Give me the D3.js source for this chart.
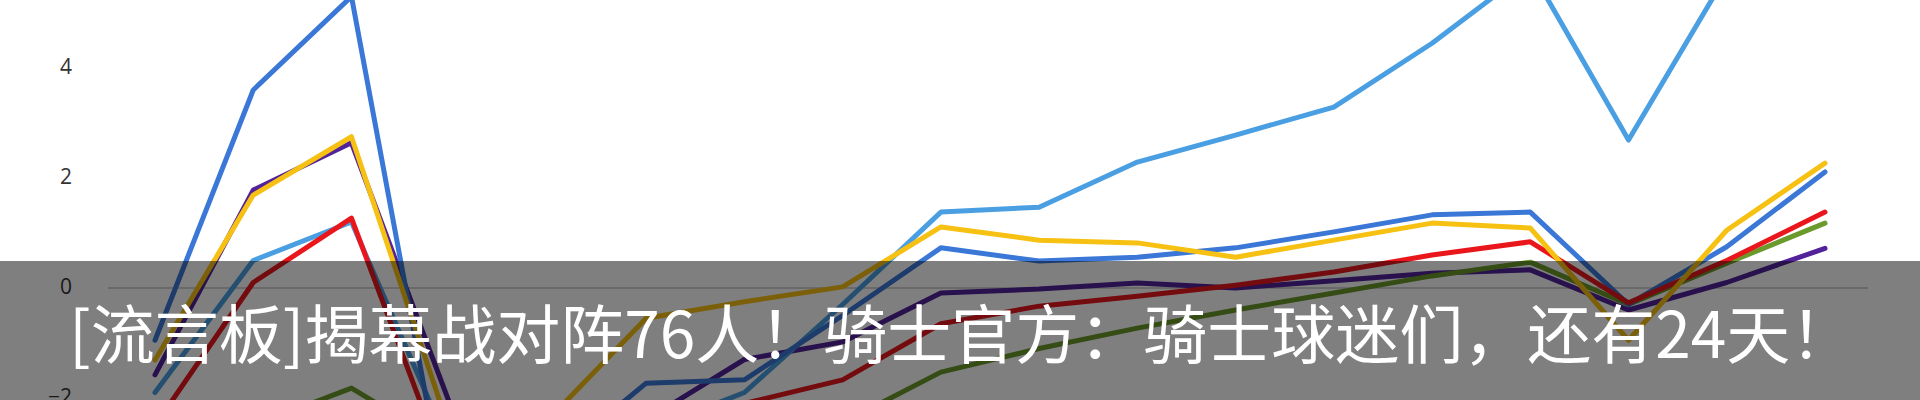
<!DOCTYPE html>
<html>
<head>
<meta charset="utf-8">
<script src="https://cdn.jsdelivr.net/npm/d3@7"></script>
<style>
  html, body { margin: 0; padding: 0; background: #fff; overflow: hidden; }
  svg { display: block; }
</style>
</head>
<body>
<svg id="chart" width="1920" height="400"></svg>
<script>
// ---- data ----
const categories = [1, 2, 3, 4, 5, 6, 7, 8, 9, 10, 11, 12, 13, 14, 15, 16, 17, 18];
const tickValues = [-2, 0, 2, 4];

const seriesPurple    = [-1.58, 1.78, 2.64, -2.1, -3.0, -2.4, -1.3, -0.98, -0.09, -0.02, 0.09, 0.0, 0.13, 0.27, 0.33, -0.4, 0.1, 0.72];
const seriesGreen     = [-3.0, -2.5, -1.82, -2.9, -3.3, -3.2, -2.9, -2.45, -1.53, -1.1, -0.73, -0.4, -0.09, 0.22, 0.47, -0.3, 0.45, 1.18];
const seriesLightBlue = [-1.9, 0.5, 1.2, -2.9, -3.2, -2.6, -1.9, -0.3, 1.38, 1.47, 2.29, 2.78, 3.29, 4.45, 5.8, 2.69, 5.7, 6.0];
const seriesBlue      = [-0.95, 3.6, 5.3, -4.3, -3.2, -1.73, -1.67, -0.5, 0.73, 0.49, 0.56, 0.73, 1.02, 1.33, 1.38, -0.3, 0.75, 2.11];
const seriesRed       = [-2.5, 0.1, 1.27, -3.5, -3.3, -2.8, -2.1, -1.67, -0.65, -0.33, -0.15, 0.05, 0.29, 0.6, 0.84, -0.27, 0.5, 1.38];
const seriesYellow    = [-1.31, 1.69, 2.75, -2.6, -2.4, -0.55, -0.25, 0.02, 1.11, 0.87, 0.82, 0.56, 0.87, 1.18, 1.09, -0.95, 1.05, 2.27];

const caption = "[流言板]揭幕战对阵76人！骑士官方：骑士球迷们，还有24天！";

// ---- drawing ----
const svg = d3.select("#chart");

const x = d3.scalePoint().domain(categories).range([155, 1825]);
const y = d3.scaleLinear().domain([-2, 4]).range([398, 68]);

// zero grid line
svg.append("line")
  .attr("x1", 108).attr("x2", 1868)
  .attr("y1", y(0)).attr("y2", y(0))
  .attr("stroke", "#c4c4c4").attr("stroke-width", 1.5);

// y axis (labels only)
const yAxis = d3.axisLeft(y).tickValues(tickValues).tickSize(0).tickPadding(8)
  .tickFormat(d3.format("d"));
const gy = svg.append("g").attr("transform", "translate(80,0)").call(yAxis);
gy.select(".domain").remove();
gy.selectAll("text")
  .attr("font-family", "'Open Sans', 'Liberation Sans', sans-serif")
  .attr("font-size", 21)
  .attr("dy", "0.26em")
  .attr("fill", "#333333");

const line = d3.line()
  .x((d, i) => x(categories[i]))
  .y(d => y(d));

const series = [
  { values: seriesPurple,    color: "#52229a" },
  { values: seriesGreen,     color: "#6a9a2b" },
  { values: seriesLightBlue, color: "#4a9fe2" },
  { values: seriesBlue,      color: "#3a77d6" },
  { values: seriesRed,       color: "#e9171c" },
  { values: seriesYellow,    color: "#f6c112" }
];

svg.append("g").selectAll("path")
  .data(series)
  .join("path")
  .attr("d", d => line(d.values))
  .attr("fill", "none")
  .attr("stroke", d => d.color)
  .attr("stroke-width", 5)
  .attr("stroke-linejoin", "round")
  .attr("stroke-linecap", "round");

// caption banner
svg.append("rect")
  .attr("x", 0).attr("y", 261)
  .attr("width", 1920).attr("height", 139)
  .attr("fill", "rgba(0,0,0,0.5)");

svg.append("text")
  .attr("x", 69).attr("y", 358)
  .attr("font-family", "'Noto Sans CJK SC', sans-serif")
  .attr("font-size", 64)
  .attr("fill", "#ffffff")
  .text(caption);
</script>
</body>
</html>
